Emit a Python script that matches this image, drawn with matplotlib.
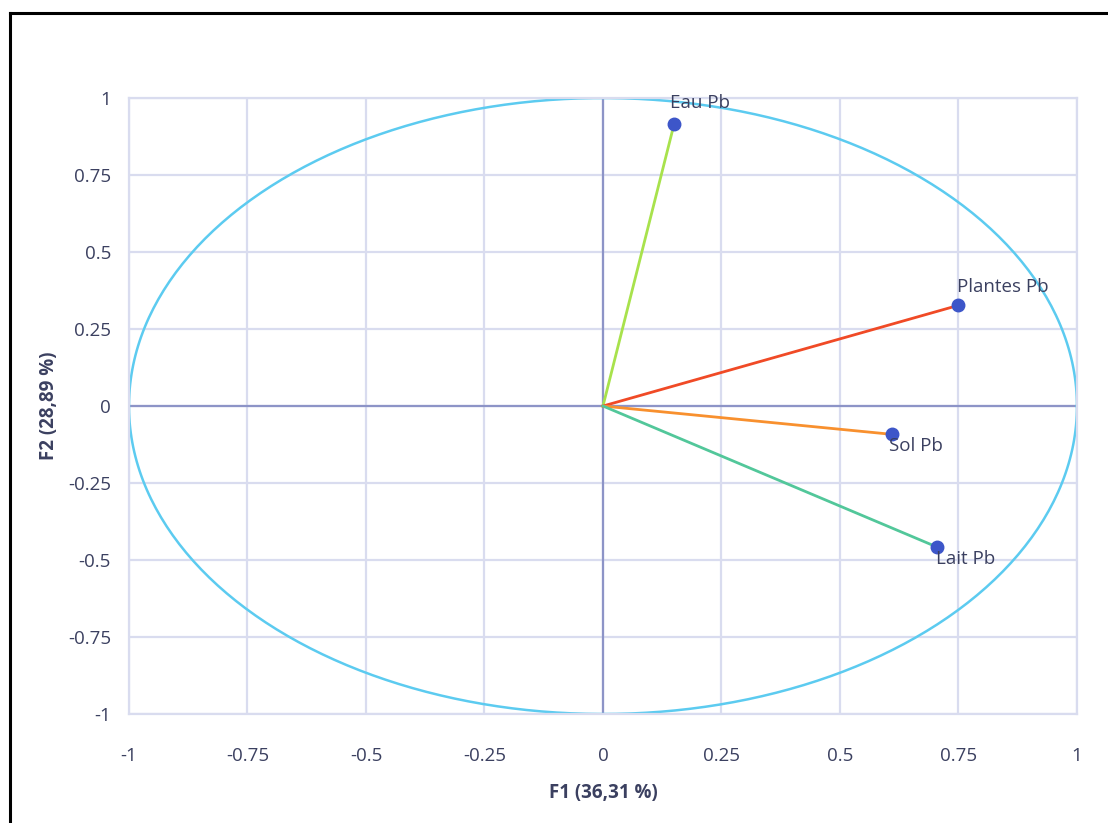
import numpy as np
import matplotlib
matplotlib.use("Agg")
import matplotlib.pyplot as plt
from matplotlib.lines import Line2D

# Variable coordinates on the first two factorial axes
variables = ["Eau Pb", "Plantes Pb", "Sol Pb", "Lait Pb"]
f1 = [0.15, 0.75, 0.61, 0.705]
f2 = [0.915, 0.327, -0.092, -0.458]
vector_colors = ["#a8e24c", "#f04a26", "#f8902e", "#52c79a"]

ticks = [-1, -0.75, -0.5, -0.25, 0, 0.25, 0.5, 0.75, 1]
tick_labels = ["-1", "-0.75", "-0.5", "-0.25", "0", "0.25", "0.5", "0.75", "1"]
x_title = "F1 (36,31 %)"
y_title = "F2 (28,89 %)"

plt.rcParams["font.family"] = ["Open Sans", "DejaVu Sans"]
text_color = "#3b4060"
grid_color = "#d9dcef"
zero_color = "#8d94c7"

fig = plt.figure(figsize=(11.08, 8.23), dpi=100)
ax = fig.add_axes([0.1164, 0.1324, 0.8556, 0.7485])

ax.set_xlim(-1, 1)
ax.set_ylim(-1, 1)
ax.set_xticks(ticks)
ax.set_yticks(ticks)
ax.set_xticklabels(tick_labels)
ax.set_yticklabels(tick_labels)
ax.tick_params(length=0, labelsize=13.5, colors=text_color)
ax.tick_params(axis="x", pad=24)
ax.tick_params(axis="y", pad=13)
ax.grid(True, color=grid_color, linewidth=1.6, zorder=0)
for s in ax.spines.values():
    s.set_color(grid_color)
    s.set_linewidth(1.6)

# Zero axes
ax.axhline(0, color=zero_color, linewidth=1.6, zorder=2)
ax.axvline(0, color=zero_color, linewidth=1.6, zorder=2)

# Correlation circle
t = np.linspace(0, 2 * np.pi, 400)
ax.plot(np.cos(t), np.sin(t), color="#5ccbf0", linewidth=1.8, zorder=2.5)

# Vectors and points
for name, x, y, c in zip(variables, f1, f2, vector_colors):
    ax.plot([0, x], [0, y], color=c, linewidth=2, zorder=3)
    ax.plot(x, y, "o", color="#3d56c9", markersize=9, zorder=4)

label_style = dict(fontsize=13.5, color=text_color, zorder=5)
ax.annotate(variables[0], (f1[0], f2[0]), xytext=(-3, 9), textcoords="offset points",
            ha="left", va="bottom", **label_style)
ax.annotate(variables[1], (f1[1], f2[1]), xytext=(-1, 7), textcoords="offset points",
            ha="left", va="bottom", **label_style)
ax.annotate(variables[2], (f1[2], f2[2]), xytext=(-2, -2), textcoords="offset points",
            ha="left", va="top", **label_style)
ax.annotate(variables[3], (f1[3], f2[3]), xytext=(-1, -2), textcoords="offset points",
            ha="left", va="top", **label_style)

ax.set_xlabel(x_title, fontsize=13.5, fontweight="bold", color=text_color)
ax.set_ylabel(y_title, fontsize=13.5, fontweight="bold", color=text_color)
ax.xaxis.set_label_coords(0.5, -0.112)
ax.yaxis.set_label_coords(-0.074, 0.5)

# Frame edges around the figure
fig.add_artist(Line2D([0.009, 1.0], [0.984, 0.984], transform=fig.transFigure,
                      color="black", linewidth=2.2))
fig.add_artist(Line2D([0.009, 0.009], [0.0, 0.984], transform=fig.transFigure,
                      color="black", linewidth=2.2))

fig.savefig("out.png", dpi=100)
